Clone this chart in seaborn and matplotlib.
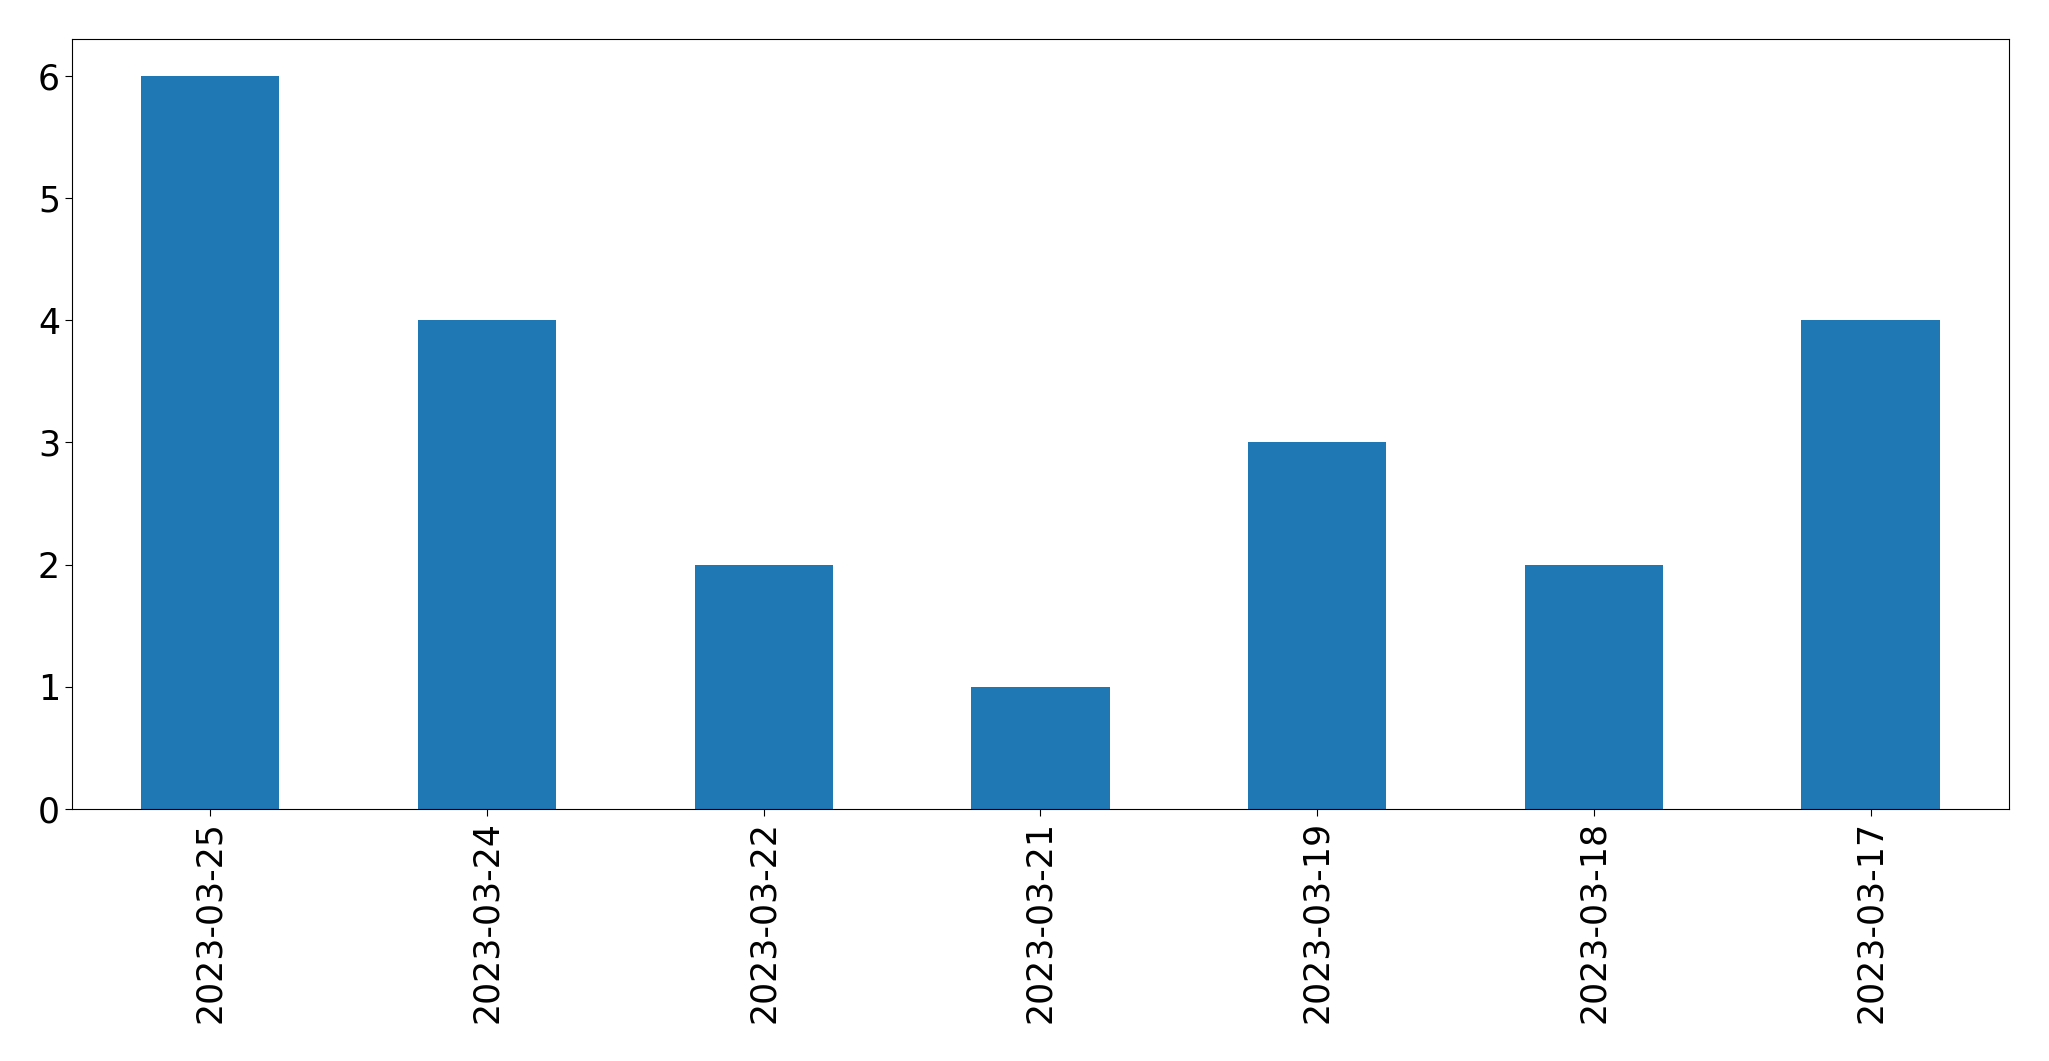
import matplotlib

matplotlib.use("Agg")

import matplotlib.pyplot as plt
import pandas as pd
import seaborn as sns

dates = ["2023-03-25", "2023-03-24", "2023-03-22", "2023-03-21",
         "2023-03-19", "2023-03-18", "2023-03-17"]
counts = [6, 4, 2, 1, 3, 2, 4]

df = pd.DataFrame({"date": dates, "count": counts})

fig = plt.figure(figsize=(20.49, 10.61), dpi=100)
ax = fig.add_axes([0.0351, 0.2375, 0.9454, 0.7257])
sns.barplot(data=df, x="date", y="count", color="#1f77b4",
            saturation=1, width=0.5, ax=ax)
ax.set_xlim(-0.5, 6.5)
ax.set_ylim(0, 6.3)
ax.set_xlabel("")
ax.set_ylabel("")
ax.tick_params(axis="both", labelsize=25, length=5)
ax.tick_params(axis="x", labelrotation=90)
plt.savefig("out.png", dpi=100)
plt.close()
